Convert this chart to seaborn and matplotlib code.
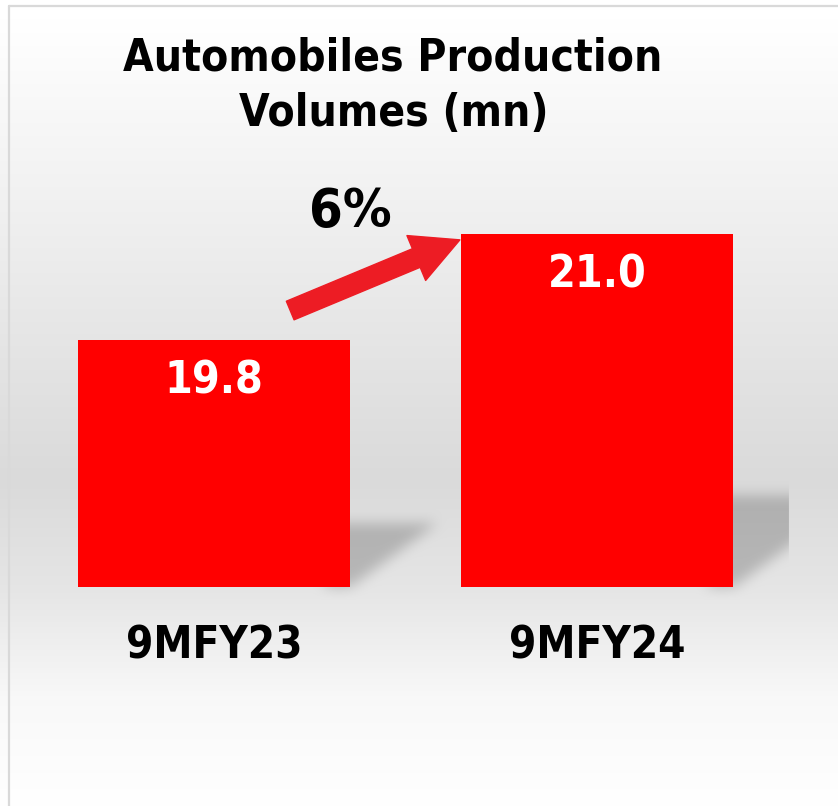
import numpy as np
import matplotlib
matplotlib.use("Agg")
import matplotlib.pyplot as plt
import seaborn as sns
import pandas as pd
from matplotlib.patches import FancyArrowPatch

# ---- data ----
categories = ["9MFY23", "9MFY24"]
values = [19.8, 21.0]
value_labels = ["19.8", "21.0"]
growth_label = "6%"
title_lines = ["Automobiles Production", "Volumes (mn)"]

sns.set_theme(style="white")
plt.rcParams['font.family'] = ['DejaVu Sans']
FONT = dict(family='DejaVu Sans', fontweight='bold', fontstretch='condensed')

W, H = 838, 806
fig = plt.figure(figsize=(W / 100, H / 100), dpi=100)

# background axes in pixel coordinates (top-down)
bg = fig.add_axes([0, 0, 1, 1], zorder=0)
bg.set_xlim(0, W)
bg.set_ylim(H, 0)
bg.axis('off')

# main axes
ax = fig.add_axes([22.5 / W, 1 - 587 / H, 766 / W, 4.6 * 88.33 / H], zorder=1)
ax.patch.set_alpha(0)
df = pd.DataFrame({"category": categories, "value": values})
sns.barplot(data=df, x="category", y="value", color="#FF0000", width=0.71,
            saturation=1, ax=ax, edgecolor="none")
ax.set_xlim(-0.5, 1.5)
ax.set_ylim(17, 21.6)
for s in ax.spines.values():
    s.set_visible(False)
ax.set_yticks([])
ax.set_xlabel("")
ax.set_ylabel("")
ax.tick_params(axis='x', length=0, pad=27)
ax.set_xticks(range(len(categories)))
ax.set_xticklabels(categories, fontsize=31.5, color='black', **FONT)

# ---- background gradient + blurred shadows ----
yy, xx = np.mgrid[0:H, 0:W] + 0.5
stops_y = [0, 20, 200, 480, 590, 700, 806]
stops_c = [1.0, 1.0, 0.945, 0.855, 0.90, 0.975, 1.0]
grad = np.interp(yy[:, 0], stops_y, stops_c)
img = np.repeat(grad[:, None], W, axis=1)

ybase = ax.get_ylim()[0]
clip_x = ax.transAxes.transform((1, 0))[0]
mask = np.zeros((H, W))
for p in ax.patches:
    xr = p.get_x() + p.get_width()
    (dx_r, dy_b), (_, dy_t) = ax.transData.transform([(xr, ybase), (xr, p.get_height())])
    yb = H - dy_b
    yt = H - dy_t
    hs = 0.26 * (yb - yt)
    d = 1.36 * hs
    inside = (xx >= dx_r - 25) & (yy <= yb) & (yy >= yb - hs) & \
             ((xx - dx_r) <= d * (yb - yy) / hs)
    mask = np.maximum(mask, inside.astype(float))


def box_blur(a, r, axis):
    c = np.cumsum(np.pad(a, [(r + 1, r) if i == axis else (0, 0) for i in range(2)], mode='edge'), axis=axis)
    n = a.shape[axis]
    hi = np.take(c, np.arange(2 * r + 1, 2 * r + 1 + n), axis=axis)
    lo = np.take(c, np.arange(0, n), axis=axis)
    return (hi - lo) / (2 * r + 1)


for _ in range(2):
    mask = box_blur(mask, 7, 0)
    mask = box_blur(mask, 7, 1)
mask[:, int(clip_x):] = 0
img = img * (1 - 0.2 * mask)
rgb = np.dstack([img, img, img])
bg.imshow(rgb, extent=[0, W, H, 0], aspect='auto', interpolation='bilinear', zorder=0)

# frame lines
bg.plot([9, 9], [6, H], color='#D9D9D9', lw=1.6, zorder=1)
bg.plot([9, W], [6, 6], color='#D9D9D9', lw=1.6, zorder=1)

# ---- value labels ----
for p, lab in zip(ax.patches, value_labels):
    ax.text(p.get_x() + p.get_width() / 2, p.get_height() - 0.47, lab,
            ha='center', va='center', color='white', fontsize=32, **FONT)

# ---- growth arrow ----
b1, b2 = ax.patches[0], ax.patches[1]
start = (b1.get_x() + b1.get_width() - 0.156, values[0] + 0.33)
end = (b2.get_x() - 0.003, values[1] - 0.07)
arrow = FancyArrowPatch(start, end,
                        arrowstyle='simple,head_length=34,head_width=35,tail_width=14.5',
                        mutation_scale=1, color='#ED1C24', shrinkA=0, shrinkB=0,
                        transform=ax.transData, zorder=5, clip_on=False)
ax.add_patch(arrow)
ax.text(b1.get_x() + b1.get_width(), values[1] + 0.25, growth_label,
        ha='center', va='center', color='black', fontsize=39, clip_on=False, **FONT)

# ---- title ----
fig.text(393 / W, 1 - 58 / H, title_lines[0], ha='center', va='center',
         fontsize=31.8, color='black', **FONT)
fig.text(394 / W, 1 - 113 / H, title_lines[1], ha='center', va='center',
         fontsize=31.8, color='black', **FONT)

fig.savefig("out.png", dpi=100)
